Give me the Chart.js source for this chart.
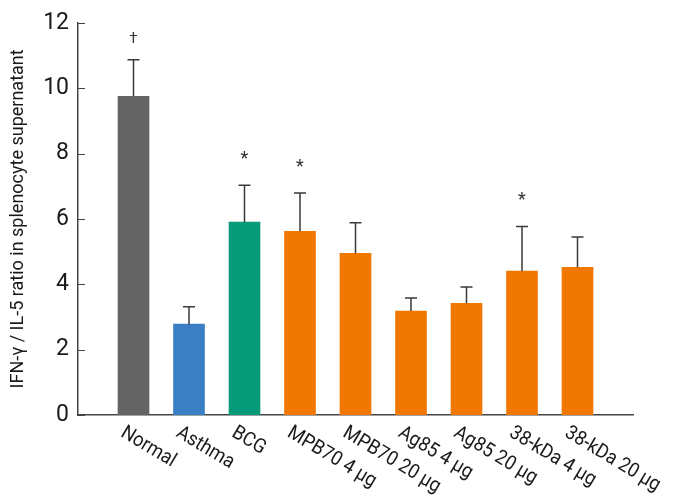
<!DOCTYPE html>
<html>
<head>
<meta charset="utf-8">
<script src="https://cdn.jsdelivr.net/npm/chart.js@4.4.1/dist/chart.umd.min.js"></script>
<style>
  html, body { margin: 0; padding: 0; background: #fff; }
  #wrap { width: 673px; height: 502px; }
</style>
</head>
<body>
<div id="wrap"><canvas id="chart" width="673" height="502"></canvas></div>
<script>
const groups = ['Normal', 'Asthma', 'BCG', 'MPB70 4 µg', 'MPB70 20 µg', 'Ag85 4 µg', 'Ag85 20 µg', '38-kDa 4 µg', '38-kDa 20 µg'];
const ratio = [9.75, 2.78, 5.9, 5.62, 4.95, 3.18, 3.42, 4.4, 4.52];
const ratioErr = [10.87, 3.31, 7.03, 6.79, 5.88, 3.58, 3.92, 5.77, 5.45];
const marks = ['†', '', '*', '*', '', '', '', '*', ''];
const yTicks = [0, 2, 4, 6, 8, 10, 12];

const colors = ['#646464', '#3a7fc4', '#069a78', '#f07800', '#f07800', '#f07800', '#f07800', '#f07800', '#f07800'];
const FONT = 'Roboto, sans-serif';

// one empty slot at each end so the bars sit like in the original
const labels = [''].concat(groups, ['']);
const values = [null].concat(ratio, [null]);

const extras = {
  id: 'extras',
  afterDatasetsDraw(chart) {
    const ctx = chart.ctx;
    const x = chart.scales.x, y = chart.scales.y;
    ctx.save();
    // inward y ticks
    ctx.strokeStyle = '#444';
    ctx.lineWidth = 1;
    yTicks.forEach(t => {
      const py = Math.round(y.getPixelForValue(t)) + 0.5;
      ctx.beginPath();
      ctx.moveTo(x.left, py);
      ctx.lineTo(x.left + 7, py);
      ctx.stroke();
    });
    // error bars
    ctx.strokeStyle = '#3a3a3a';
    ctx.lineWidth = 1.5;
    ratio.forEach((v, i) => {
      const px = x.getPixelForValue(i + 1);
      const top = y.getPixelForValue(ratioErr[i]);
      ctx.beginPath();
      ctx.moveTo(px, y.getPixelForValue(v));
      ctx.lineTo(px, top);
      ctx.moveTo(px - 6, top);
      ctx.lineTo(px + 6, top);
      ctx.stroke();
    });
    // significance marks
    ctx.fillStyle = '#333';
    ctx.textAlign = 'center';
    ctx.textBaseline = 'middle';
    marks.forEach((m, i) => {
      if (!m) return;
      const px = x.getPixelForValue(i + 1);
      const top = y.getPixelForValue(ratioErr[i]);
      ctx.font = (m === '*' ? '18px ' : '15px ') + FONT;
      ctx.fillText(m, px, top - (m === '*' ? 26 : 20));
    });
    // slanted category labels
    ctx.fillStyle = '#1a1a1a';
    ctx.font = '20px ' + FONT;
    ctx.textAlign = 'left';
    ctx.textBaseline = 'top';
    groups.forEach((g, i) => {
      const px = x.getPixelForValue(i + 1);
      ctx.save();
      ctx.translate(px - 6, y.bottom + 8);
      ctx.rotate(31 * Math.PI / 180);
      ctx.scale(0.92, 1);
      ctx.fillText(g, 0, 0);
      ctx.restore();
    });
    ctx.restore();
  }
};

new Chart(document.getElementById('chart'), {
  type: 'bar',
  data: {
    labels: labels,
    datasets: [{
      data: values,
      backgroundColor: [null].concat(colors, [null]),
      barThickness: 31
    }]
  },
  options: {
    responsive: false,
    animation: false,
    layout: { padding: { top: 15, right: 40, left: 0, bottom: 0 } },
    plugins: { legend: { display: false }, tooltip: { enabled: false } },
    scales: {
      x: {
        offset: false,
        grid: { display: false },
        border: { color: '#444', width: 1.5 },
        ticks: { display: false },
        afterFit: s => { s.height = 87; }
      },
      y: {
        min: 0,
        max: 12,
        afterBuildTicks: s => { s.ticks = yTicks.map(v => ({ value: v })); },
        grid: { display: false, drawTicks: false },
        border: { color: '#444', width: 1.5 },
        ticks: { padding: 9, color: '#1a1a1a', font: { family: FONT, size: 23 } },
        title: {
          display: true,
          text: 'IFN-γ / IL-5 ratio in splenocyte supernatant',
          color: '#1a1a1a',
          font: { family: FONT, size: 18 },
          padding: { top: 8, bottom: 0 }
        },
        afterFit: s => { s.width = 78; }
      }
    }
  },
  plugins: [extras]
});
</script>
</body>
</html>
